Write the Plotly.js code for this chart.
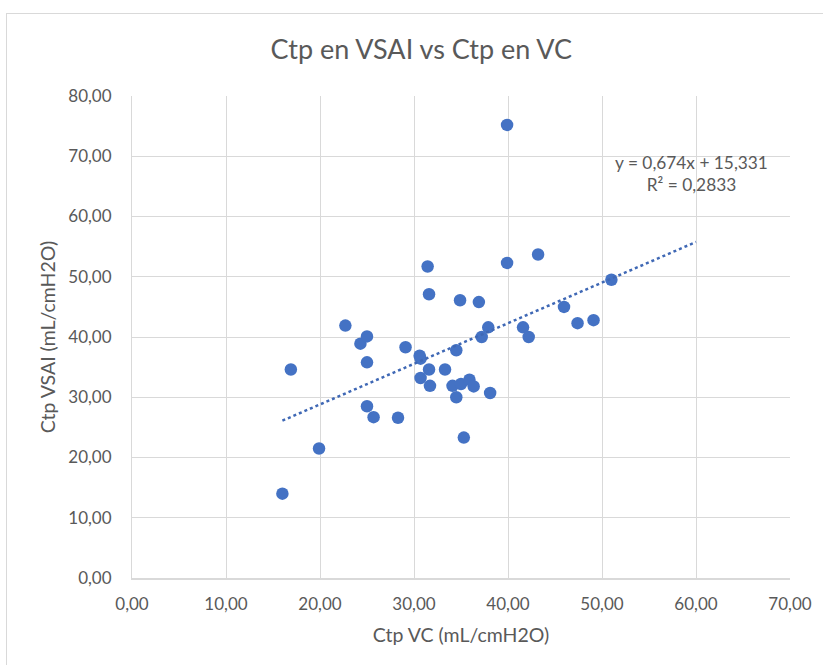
<!DOCTYPE html>
<html>
<head>
<meta charset="utf-8">
<script src="https://cdn.plot.ly/plotly-3.0.1.min.js"></script>
<style>
  html, body { margin: 0; padding: 0; background: #ffffff; }
  #frame { position: absolute; left: 6px; top: 13px; width: 840px; height: 700px; border: 1px solid #d9d9d9; box-sizing: border-box; }
  #chart { position: absolute; left: 0; top: 0; width: 823px; height: 665px; }
</style>
</head>
<body>
<div id="frame"></div>
<div id="chart"></div>
<script>
// Data
const ctpVC = [16.0, 16.9, 19.9, 22.7, 24.3, 25.0, 25.0, 25.0, 25.7, 28.3,
               29.1, 30.6, 30.7, 30.7, 31.6, 31.7, 31.45, 31.6, 33.3, 34.5,
               34.9, 36.9, 37.9, 37.2, 34.1, 35.0, 35.9, 36.35, 34.5, 38.1,
               35.3, 39.9, 43.2, 41.6, 42.2, 39.9, 51.0, 45.96, 47.4, 49.1];
const ctpVSAI = [14.0, 34.6, 21.5, 41.9, 38.9, 40.1, 35.8, 28.5, 26.7, 26.6,
                 38.3, 36.9, 36.4, 33.2, 34.6, 31.9, 51.7, 47.1, 34.6, 37.8,
                 46.1, 45.8, 41.6, 40.0, 31.9, 32.2, 32.9, 31.8, 30.0, 30.7,
                 23.3, 52.3, 53.7, 41.6, 40.0, 75.2, 49.5, 45.0, 42.3, 42.8];
const trendSlope = 0.674;
const trendIntercept = 15.331;
const trendXRange = [16, 60];
const trendY = trendXRange.map(x => trendSlope * x + trendIntercept);
const eqLabel = 'y = 0,674x + 15,331<br>R² = 0,2833';

const FONT = 'Lato, "Open Sans", sans-serif';
const GRAY = '#595959';
const BLUE = '#4472C4';

const traces = [
  {
    x: ctpVC, y: ctpVSAI, type: 'scatter', mode: 'markers',
    marker: { color: BLUE, size: 12.5 },
    hoverinfo: 'x+y', showlegend: false
  },
  {
    x: trendXRange, y: trendY, type: 'scatter', mode: 'lines',
    line: { color: '#3F68B5', width: 2.5, dash: 'dot' },
    hoverinfo: 'skip', showlegend: false
  }
];

const layout = {
  width: 823, height: 665,
  margin: { l: 132, r: 33, t: 96, b: 87 },
  paper_bgcolor: 'rgba(0,0,0,0)',
  plot_bgcolor: '#ffffff',
  separators: ',.',
  font: { family: FONT, color: GRAY, size: 16 },
  title: {
    text: 'Ctp en VSAI vs Ctp en VC',
    font: { family: FONT, size: 27, color: GRAY },
    x: 0.512, xanchor: 'center', y: 0.926, yanchor: 'middle'
  },
  xaxis: {
    range: [0, 70], dtick: 10, tick0: 0, tickformat: '.2f',
    showgrid: true, gridcolor: '#d9d9d9', gridwidth: 1,
    zeroline: false, showline: true, linecolor: '#d9d9d9', linewidth: 1.5,
    ticks: 'outside', ticklen: 10, tickcolor: 'rgba(0,0,0,0)',
    tickfont: { family: FONT, size: 17, color: GRAY },
    title: { text: 'Ctp VC (mL/cmH2O)', font: { family: FONT, size: 19.5, color: GRAY }, standoff: 15 },
    fixedrange: true
  },
  yaxis: {
    range: [0, 80], dtick: 10, tick0: 0, tickformat: '.2f',
    showgrid: true, gridcolor: '#d9d9d9', gridwidth: 1,
    zeroline: false, showline: true, linecolor: '#d9d9d9', linewidth: 1,
    ticks: 'outside', ticklen: 16, tickcolor: 'rgba(0,0,0,0)',
    tickfont: { family: FONT, size: 17, color: GRAY },
    title: { text: 'Ctp VSAI (mL/cmH2O)', font: { family: FONT, size: 19.5, color: GRAY }, standoff: 7 },
    fixedrange: true
  },
  annotations: [
    {
      x: 59.5, y: 67.2, xref: 'x', yref: 'y',
      text: eqLabel, showarrow: false,
      font: { family: FONT, size: 17.3, color: GRAY },
      align: 'center', xanchor: 'center', yanchor: 'middle'
    }
  ]
};

Plotly.newPlot('chart', traces, layout, { displayModeBar: false, staticPlot: true });
</script>
</body>
</html>
